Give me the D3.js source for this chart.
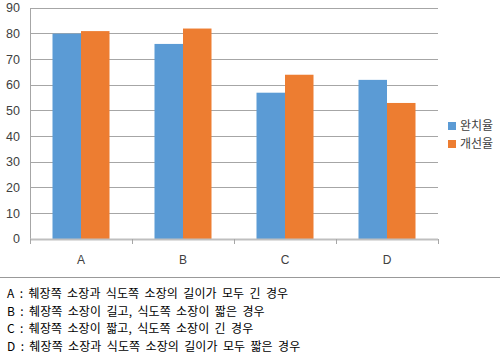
<!DOCTYPE html>
<html><head><meta charset="utf-8">
<script src="https://cdn.jsdelivr.net/npm/d3@7"></script>
<style>body{margin:0;background:#fff}svg{display:block}</style>
</head><body>
<script>
const categories = ["A","B","C","D"];
const seriesNames = ["완치율","개선율"];
const cureRate = [80,76,57,62];
const improveRate = [81,82,64,53];
const yTicks = [0,10,20,30,40,50,60,70,80,90];
const notes = [
  "A : 췌장쪽 소장과 식도쪽 소장의 길이가 모두 긴 경우",
  "B : 췌장쪽 소장이 길고, 식도쪽 소장이 짧은 경우",
  "C : 췌장쪽 소장이 짧고, 식도쪽 소장이 긴 경우",
  "D : 췌장쪽 소장과 식도쪽 소장의 길이가 모두 짧은 경우"
];
const colors = ["#5b9bd5","#ed7d31"];
const series = [cureRate, improveRate];

(function(){
const W=500,H=355;
const svg=d3.select("body").append("svg").attr("width",W).attr("height",H);
const pl=30,pr=438,pt=8,pb=239;
const x=d3.scaleBand().domain(categories).range([pl,pr]).paddingInner(0).paddingOuter(0);
const y=d3.scaleLinear().domain([0,90]).range([pb,pt]);
const font="'Liberation Sans', Arial, sans-serif";

svg.append("g").selectAll("line").data(yTicks.filter(d=>d>0)).join("line")
  .attr("x1",pl).attr("x2",pr).attr("y1",d=>y(d)).attr("y2",d=>y(d))
  .attr("stroke","#a6a6a6").attr("stroke-width",1).attr("shape-rendering","crispEdges");

svg.append("g").selectAll("text").data(yTicks).join("text")
  .attr("x",20).attr("y",d=>y(d)).attr("dy","0.35em").attr("text-anchor","end")
  .attr("font-family",font).attr("font-size",12.5).attr("fill","#404040").text(d=>d);

svg.append("line").attr("x1",pl).attr("x2",pl).attr("y1",pt).attr("y2",pb)
  .attr("stroke","#a6a6a6").attr("shape-rendering","crispEdges");

const bw=28.5;
const gap=(x.bandwidth()-2*bw)/2;
series.forEach((vals,si)=>{
  svg.append("g").selectAll("rect").data(vals).join("rect")
    .attr("x",(d,i)=>x(categories[i])+gap+si*bw)
    .attr("width",bw)
    .attr("y",d=>y(d)).attr("height",d=>pb-y(d))
    .attr("fill",colors[si]);
});

const xg=svg.append("g");
xg.append("line").attr("x1",pl).attr("x2",pr).attr("y1",pb+0.5).attr("y2",pb+0.5)
  .attr("stroke","#bfbfbf").attr("stroke-width",2);
const tickX=categories.map(c=>x(c)).concat([pr]);
xg.selectAll("line.t").data(tickX).join("line").attr("class","t")
  .attr("x1",d=>d).attr("x2",d=>d).attr("y1",pb).attr("y2",pb+5)
  .attr("stroke","#a6a6a6").attr("shape-rendering","crispEdges");
xg.selectAll("text").data(categories).join("text")
  .attr("x",d=>x(d)+x.bandwidth()/2).attr("y",260).attr("dy","0.35em").attr("text-anchor","middle")
  .attr("font-family",font).attr("font-size",12).attr("fill","#404040").text(d=>d);

const lg=svg.append("g");
seriesNames.forEach((n,i)=>{
  const ly=126+i*18;
  lg.append("rect").attr("x",448).attr("y",ly-4).attr("width",8).attr("height",8).attr("fill",colors[i]);
  lg.append("text").attr("x",460).attr("y",ly).attr("dy","0.35em")
    .attr("font-family","'Noto Sans CJK KR', sans-serif").attr("font-size",12).attr("fill","#404040").text(n);
});

svg.append("line").attr("x1",0).attr("x2",W).attr("y1",277.5).attr("y2",277.5)
  .attr("stroke","#999").attr("stroke-width",1);

svg.append("g").selectAll("text").data(notes).join("text")
  .attr("x",7).attr("y",(d,i)=>294+i*17.6).attr("dy","0.35em")
  .attr("font-family","'Noto Sans CJK KR', sans-serif").attr("font-size",12)
  .attr("word-spacing",2.5).attr("letter-spacing",0.1)
  .attr("fill","#000").text(d=>d);
})();
</script>
</body></html>
